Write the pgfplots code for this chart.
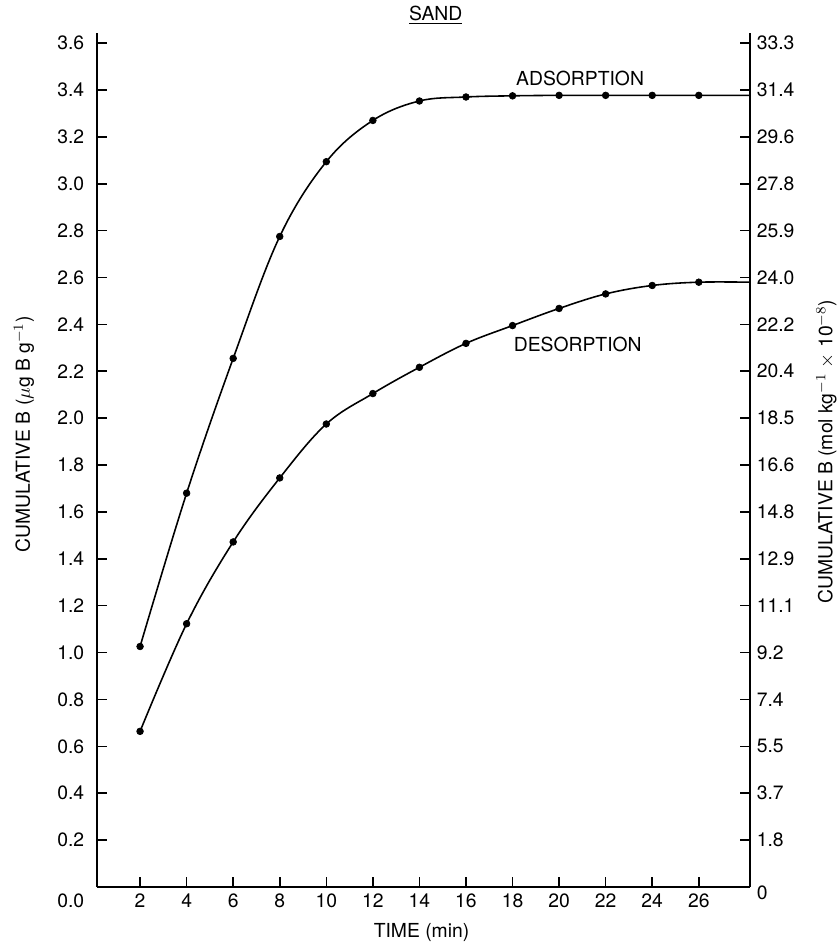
\documentclass[border=0pt]{standalone}
\usepackage{fontspec}
\setmainfont{TeX Gyre Heros}
\usepackage{pgfplots}
\pgfplotsset{compat=1.18}

\pgfplotsset{
    sandplot/.style = {
        scale only axis,
        width = 13.06cm,
        height = 17.08cm,
        at = {(0,0)},
        anchor = south west,
        xmin = 0.15, xmax = 28.2,
        ymin = 0, ymax = 3.643,
        tick align = inside,
        major tick length = 0.2cm,
        axis line style = {-, line width = 1.1pt},
        tick style = {line width = 0.9pt, black},
        /pgf/number format/assume math mode = true,
        clip = false
    }
}

\begin{document}
\fontsize{11}{13}\selectfont
\begin{tikzpicture}
    \useasboundingbox (-1.94,-1.24) rectangle (14.86,17.74);

    % left axis, time axis and both series
    \begin{axis}[
        sandplot,
        axis x line* = bottom,
        axis y line* = left,
        xtick = {2,4,...,26},
        ytick = {0.2,0.4,...,3.6},
        yticklabel style = {/pgf/number format/.cd, fixed, fixed zerofill, precision = 1, /tikz/.cd, xshift = -0.12cm},
        extra y ticks = {0},
        extra y tick labels = {0.0},
        extra y tick style = {major tick length = 0pt, yticklabel style = {yshift = -0.28cm}},
        xlabel = {TIME (min)},
        xlabel style = {at = {(axis description cs:0.497,0)}, anchor = center, yshift = -0.92cm},
        ylabel = {CUMULATIVE B ($\mu$g B g$^{-1}$)},
        ylabel style = {at = {(axis description cs:-0.112,0.53)}, anchor = center}
    ]
        % adsorption curve
        \addplot[black, line width = 0.9pt, smooth, tension = 0.6, no marks] coordinates {
            (2,1.026) (4,1.68) (6,2.255) (8,2.775) (10,3.094) (12,3.27)
            (14,3.353) (16,3.37) (18,3.375) (20,3.377) (22,3.377) (24,3.377) (26,3.377) (28.2,3.377)
        };
        \addplot[only marks, mark = *, mark size = 1.9pt, black] coordinates {
            (2,1.026) (4,1.68) (6,2.255) (8,2.775) (10,3.094) (12,3.27)
            (14,3.353) (16,3.37) (18,3.375) (20,3.377) (22,3.377) (24,3.377) (26,3.377)
        };
        % desorption curve
        \addplot[black, line width = 0.9pt, smooth, tension = 0.6, no marks] coordinates {
            (2,0.664) (4,1.123) (6,1.472) (8,1.745) (10,1.975) (12,2.105)
            (14,2.217) (16,2.319) (18,2.395) (20,2.468) (22,2.53) (24,2.566) (26,2.58) (28.2,2.58)
        };
        \addplot[only marks, mark = *, mark size = 1.9pt, black] coordinates {
            (2,0.664) (4,1.123) (6,1.472) (8,1.745) (10,1.975) (12,2.105)
            (14,2.217) (16,2.319) (18,2.395) (20,2.468) (22,2.53) (24,2.566) (26,2.58)
        };
        \node at (axis cs:20.9,3.45) {ADSORPTION};
        \node at (axis cs:20.8,2.315) {DESORPTION};
        \node at (axis cs:14.7,3.643) [yshift = 0.36cm] {\underline{SAND}};
    \end{axis}

    % right axis in mol kg^-1
    \begin{axis}[
        sandplot,
        axis x line = none,
        axis y line* = right,
        ytick = {0.2,0.4,...,3.6},
        yticklabels = {1.8,3.7,5.5,7.4,9.2,11.1,12.9,14.8,16.6,18.5,20.4,22.2,24.0,25.9,27.8,29.6,31.4,33.3},
        extra y ticks = {0},
        extra y tick labels = {0},
        extra y tick style = {major tick length = 0pt, yticklabel style = {yshift = -0.12cm}},
        ylabel = {CUMULATIVE B (mol kg$^{-1}$ $\times$ 10$^{-8}$)},
        ylabel style = {at = {(axis description cs:1.117,0.51)}, anchor = center, rotate = 0}
    ]
        \addplot[draw = none] coordinates {(2,0) (26,0)};
    \end{axis}
\end{tikzpicture}
\end{document}
